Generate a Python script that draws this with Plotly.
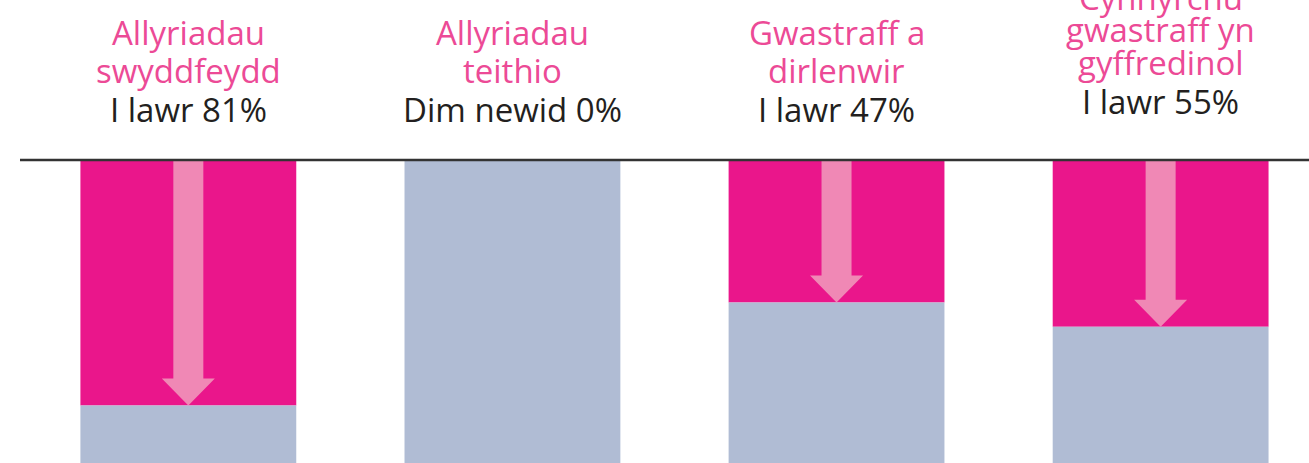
import plotly.graph_objects as go

# ---- data ----
categories = [0, 1, 2, 3]
title_lines = [
    ["Allyriadau", "swyddfeydd"],
    ["Allyriadau", "teithio"],
    ["Gwastraff a", "dirlenwir"],
    ["Cynhyrchu", "gwastraff yn", "gyffredinol"],
]
change_labels = ["I lawr 81%", "Dim newid 0%", "I lawr 47%", "I lawr 55%"]
reduction = [81, 0, 47, 55]          # % decrease (pink part)
total = [100, 100, 100, 100]          # full bar
remaining = [t - r for t, r in zip(total, reduction)]

# ---- styles ----
PINK = "#EA168B"
ARROW = "#F088B5"
GREY = "#B0BCD4"
TITLE_PINK = "#EC4A96"
DARK = "#231F20"
FONT = "Open Sans"
FSIZE = 33
BAR_W = 0.666

W, H = 1309, 463
TOP = 160
PLOT_H = H - TOP

fig = go.Figure()
fig.add_trace(go.Bar(x=categories, y=reduction, base=[0] * 4, width=BAR_W,
                     marker=dict(color=PINK, line=dict(width=0)), hoverinfo="skip"))
fig.add_trace(go.Bar(x=categories, y=remaining, base=reduction, width=BAR_W,
                     marker=dict(color=GREY, line=dict(width=0)), hoverinfo="skip"))

# arrows (derived from the reduction values)
shaft_hw = 0.0463
head_hw = 0.0818
head_h = 8.9
for xc, r in zip(categories, reduction):
    if r <= 0:
        continue
    ys = r - head_h
    xs = [xc - shaft_hw, xc + shaft_hw, xc + shaft_hw, xc + head_hw, xc,
          xc - head_hw, xc - shaft_hw, xc - shaft_hw]
    yv = [0, 0, ys, ys, r, ys, ys, 0]
    fig.add_trace(go.Scatter(x=xs, y=yv, mode="lines", fill="toself",
                             fillcolor=ARROW, line=dict(width=0, color=ARROW),
                             hoverinfo="skip", showlegend=False))

# top rule
fig.add_shape(type="line", xref="paper", yref="paper", x0=20 / W, x1=1, y0=1, y1=1,
              line=dict(color="#333333", width=2.5), layer="above")


def py(pix):
    return 1 + (TOP - pix) / PLOT_H


title_centres = [[32, 71], [32, 71], [32, 71], [-3, 30, 62]]
change_centres = [109, 109, 109, 101]
for xc, lines, cents, lab, cc in zip(categories, title_lines, title_centres,
                                     change_labels, change_centres):
    for ln, c in zip(lines, cents):
        fig.add_annotation(x=xc, y=py(c), xref="x", yref="paper", text=ln,
                           showarrow=False, yanchor="middle", xanchor="center",
                           font=dict(family=FONT, size=FSIZE, color=TITLE_PINK, weight=500))
    fig.add_annotation(x=xc, y=py(cc), xref="x", yref="paper", text=lab,
                       showarrow=False, yanchor="middle", xanchor="center",
                       font=dict(family=FONT, size=FSIZE, color=DARK, weight=500))

fig.update_layout(
    width=W, height=H, barmode="overlay", showlegend=False,
    margin=dict(l=0, r=0, t=TOP, b=0),
    paper_bgcolor="white", plot_bgcolor="white",
    xaxis=dict(range=[-0.5811, 3.4578], visible=False, fixedrange=True),
    yaxis=dict(range=[100, 0], visible=False, fixedrange=True),
)

fig.write_html("out.html", config={"displayModeBar": False},
               post_script="document.body.style.margin='0';document.body.style.overflow='hidden';")
